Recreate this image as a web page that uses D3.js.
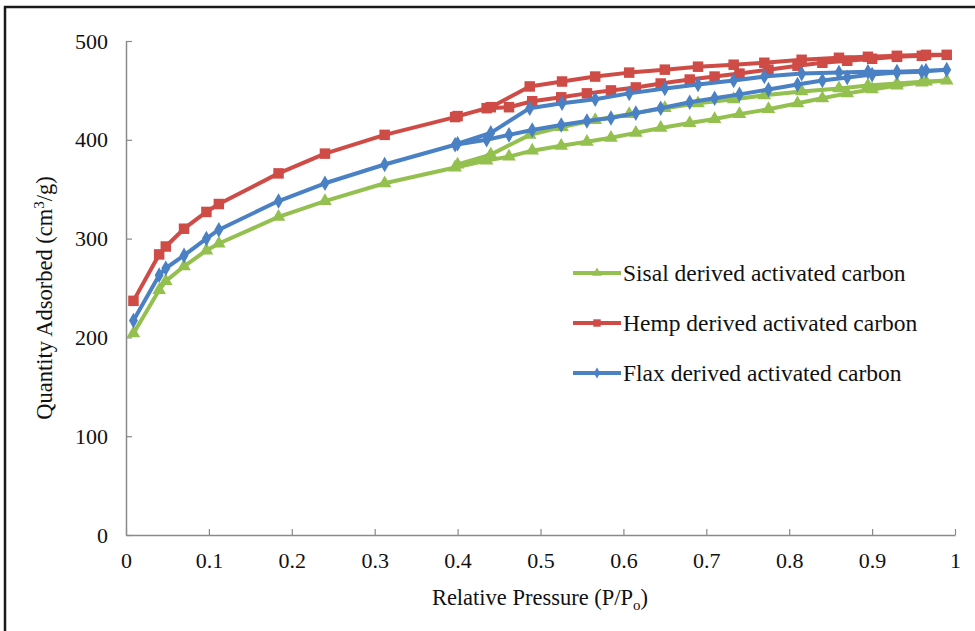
<!DOCTYPE html>
<html>
<head>
<meta charset="utf-8">
<script src="https://cdn.jsdelivr.net/npm/d3@7"></script>
<style>
  body { margin: 0; background: #fff; }
  svg text { font-family: "Liberation Serif", "Times New Roman", serif; fill: #111; }
</style>
</head>
<body>
<div id="chart"></div>
<script>
var width = 975, height = 631;
var serif = "'Liberation Serif', 'Times New Roman', serif";

// relative pressure points, adsorption then desorption branch
var adsP = [0.009, 0.04, 0.048, 0.07, 0.097, 0.112, 0.184, 0.24, 0.312, 0.397, 0.435, 0.462, 0.49, 0.525, 0.556, 0.585, 0.615, 0.645, 0.68, 0.71, 0.74, 0.775, 0.81, 0.84, 0.87, 0.9, 0.93, 0.96, 0.99];
var desP = [0.965, 0.93, 0.895, 0.86, 0.815, 0.77, 0.733, 0.69, 0.65, 0.607, 0.566, 0.526, 0.487, 0.44, 0.40];

var sisalAds = [204, 248, 257, 272, 288, 295, 322, 338, 356, 372, 379, 383, 389, 394, 398, 402, 407, 412, 417, 421, 426, 431, 437, 442, 447, 451, 455, 458, 460];
var sisalDes = [459, 457, 455, 452, 449, 445, 441, 437, 432, 426, 420, 413, 405, 385, 375];

var hempAds = [237, 284, 292, 310, 327, 335, 366, 386, 405, 423, 432, 433, 439, 443, 447, 450, 453, 457, 461, 464, 467, 471, 475, 478, 480, 482, 484, 485, 486];
var hempDes = [486, 485, 484, 483, 481, 478, 476, 474, 471, 468, 464, 459, 454, 433, 424];

var flaxAds = [217, 263, 270, 283, 300, 309, 338, 356, 375, 395, 400, 405, 410, 415, 419, 422, 427, 432, 438, 442, 446, 451, 456, 460, 463, 466, 468, 469, 471];
var flaxDes = [470, 469, 469, 468, 467, 464, 460, 456, 452, 447, 441, 437, 432, 407, 396];

var xTicks = [0, 0.1, 0.2, 0.3, 0.4, 0.5, 0.6, 0.7, 0.8, 0.9, 1];
var yTicks = [0, 100, 200, 300, 400, 500];

function joinBranches(ads, des){
  var pts = adsP.map((p, i) => [p, ads[i]]);
  return pts.concat(desP.map((p, i) => [p, des[i]]));
}

var series = [
  {name: "Sisal derived activated carbon", color: "#93c04e", shape: d3.symbolTriangle, size: 80, pts: joinBranches(sisalAds, sisalDes)},
  {name: "Hemp derived activated carbon", color: "#cf4b46", shape: d3.symbolSquare, size: 110, pts: joinBranches(hempAds, hempDes)},
  {name: "Flax derived activated carbon", color: "#4a80c4", shape: d3.symbolDiamond, size: 70, pts: joinBranches(flaxAds, flaxDes)}
];

var svg = d3.select("#chart").append("svg")
  .attr("width", width)
  .attr("height", height);

// outer frame (top + left edge)
svg.append("path")
  .attr("d", "M5,631 V7 H975")
  .attr("fill", "none")
  .attr("stroke", "#1a1a1a")
  .attr("stroke-width", 2.5);

var x = d3.scaleLinear().domain([0, 1]).range([126, 955]);
var y = d3.scaleLinear().domain([0, 500]).range([535, 41]);

var xAxis = svg.append("g")
  .attr("transform", "translate(0,535)")
  .call(d3.axisBottom(x).tickValues(xTicks).tickSizeInner(-6).tickSizeOuter(0).tickPadding(17)
    .tickFormat(d => d === 0 || d === 1 ? d : d3.format(".1f")(d)));

var yAxis = svg.append("g")
  .attr("transform", "translate(126,0)")
  .call(d3.axisLeft(y).tickValues(yTicks).tickSizeInner(-6).tickSizeOuter(0).tickPadding(18));

[xAxis, yAxis].forEach(function(a){
  a.attr("font-family", null).style("font-family", serif).attr("font-size", 22);
  a.select(".domain").attr("stroke", "#8a8a8a").attr("stroke-width", 1.5);
  a.selectAll(".tick line").attr("stroke", "#8a8a8a").attr("stroke-width", 1.2);
  a.selectAll(".tick text").style("font-family", serif).style("font-size", "22px").attr("fill", "#111");
});

// axis titles
svg.append("text")
  .attr("x", 540).attr("y", 605)
  .attr("text-anchor", "middle")
  .style("font-size", "22.5px")
  .html('Relative Pressure (P/P<tspan font-size="15" dy="5">o</tspan><tspan dy="-5">)</tspan>');

svg.append("text")
  .attr("transform", "translate(52,298) rotate(-90)")
  .attr("text-anchor", "middle")
  .style("font-size", "22.5px")
  .html('Quantity Adsorbed (cm<tspan font-size="15" dy="-8">3</tspan><tspan dy="8">/g)</tspan>');

var line = d3.line().x(d => x(d[0])).y(d => y(d[1]));

series.forEach(function(s){
  var g = svg.append("g");
  g.append("path")
    .datum(s.pts)
    .attr("d", line)
    .attr("fill", "none")
    .attr("stroke", s.color)
    .attr("stroke-width", 4)
    .attr("stroke-linejoin", "round");
  g.selectAll("path.pt")
    .data(s.pts)
    .enter()
    .append("path")
    .attr("class", "pt")
    .attr("d", d3.symbol().type(s.shape).size(s.size))
    .attr("transform", d => "translate(" + x(d[0]) + "," + y(d[1]) + ")")
    .attr("fill", s.color);
});

// legend
var legend = svg.append("g");
series.forEach(function(s, i){
  var ly = 273 + i * 50;
  legend.append("line")
    .attr("x1", 573).attr("x2", 621)
    .attr("y1", ly).attr("y2", ly)
    .attr("stroke", s.color).attr("stroke-width", 4);
  legend.append("path")
    .attr("d", d3.symbol().type(s.shape).size(s.size * 0.5))
    .attr("transform", "translate(597," + ly + ")")
    .attr("fill", s.color);
  legend.append("text")
    .attr("x", 623).attr("y", ly + 8)
    .style("font-size", "23.5px")
    .text(s.name);
});
</script>
</body>
</html>
